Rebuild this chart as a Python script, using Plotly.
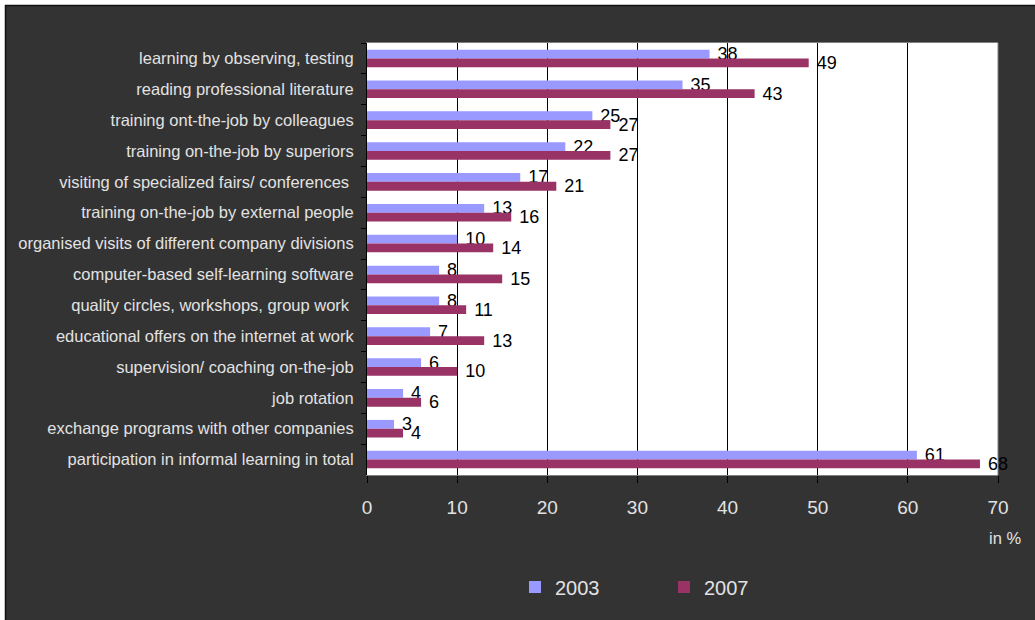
import plotly.graph_objects as go

# Forms of informal learning, share of employees (in %), 2003 vs 2007
categories = [
    "learning by observing, testing",
    "reading professional literature",
    "training ont-the-job by colleagues",
    "training on-the-job by superiors",
    "visiting of specialized fairs/ conferences\u00a0",
    "training on-the-job by external people",
    "organised visits of different company divisions",
    "computer-based self-learning software",
    "quality circles, workshops, group work\u00a0",
    "educational offers on the internet at work",
    "supervision/ coaching on-the-job",
    "job rotation",
    "exchange programs with other companies",
    "participation in informal learning in total",
]
values_2003 = [38, 35, 25, 22, 17, 13, 10, 8, 8, 7, 6, 4, 3, 61]
values_2007 = [49, 43, 27, 27, 21, 16, 14, 15, 11, 13, 10, 6, 4, 68]
x_ticks = [0, 10, 20, 30, 40, 50, 60, 70]

FONT = "Arial, Liberation Sans, sans-serif"
LIGHT = "#e2e2e2"
BG = "#333333"

W, H = 1035, 620
L, R, T, B = 367, 37, 43, 145
pw, ph = W - L - R, H - T - B


def px_x(p):
    return (p - L) / pw


def px_y(p):
    return (H - B - p) / ph


fig = go.Figure()
fig.add_trace(go.Bar(
    name="2003", y=categories, x=values_2003, orientation="h",
    marker=dict(color="#9999FF", line=dict(width=0)),
    text=[f" {v}" for v in values_2003], textposition="outside",
    constraintext="none",
    textfont=dict(family=FONT, size=18, color="black"), cliponaxis=False,
))
fig.add_trace(go.Bar(
    name="2007", y=categories, x=values_2007, orientation="h",
    marker=dict(color="#993366", line=dict(width=0)),
    text=[f" {v}" for v in values_2007], textposition="outside",
    constraintext="none",
    textfont=dict(family=FONT, size=18, color="black"), cliponaxis=False,
))

fig.update_layout(
    width=W, height=H,
    margin=dict(l=L, r=R, t=T, b=B, pad=0),
    paper_bgcolor=BG, plot_bgcolor="white",
    barmode="group", bargap=0.43, bargroupgap=0,
    font=dict(family=FONT, color=LIGHT),
    showlegend=True,
    legend=dict(
        orientation="h", xref="container", yref="container",
        x=515 / W, xanchor="left", y=1 - 587 / H, yanchor="middle",
        font=dict(family=FONT, size=20, color=LIGHT),
        bgcolor="rgba(0,0,0,0)", entrywidth=104, entrywidthmode="pixels",
        itemclick=False,
    ),
)

fig.update_xaxes(
    range=[0, 70], tickvals=x_ticks, ticktext=[str(v) for v in x_ticks],
    showgrid=True, gridcolor="black", gridwidth=1,
    showline=True, linecolor="#808080", linewidth=1, mirror=True,
    ticks="outside", ticklen=7, tickcolor="black", tickwidth=1,
    tickfont=dict(family=FONT, size=19, color=LIGHT),
    ticklabelstandoff=8, zeroline=False, fixedrange=True,
)
fig.update_yaxes(
    autorange="reversed", type="category",
    showline=True, linecolor="black", linewidth=1,
    ticks="outside", tickson="boundaries", ticklen=5, tickcolor="black",
    tickfont=dict(family=FONT, size=16.5, color=LIGHT),
    ticklabelstandoff=9, showgrid=False, fixedrange=True,
)

# right edge of the plotting area
fig.add_shape(type="line", xref="x domain", yref="y domain",
              x0=1, x1=1, y0=0, y1=1, line=dict(color="#808080", width=1))

# outer frame: white page edge and thin dark border
fig.add_shape(type="rect", xref="paper", yref="paper", layer="above",
              x0=px_x(-5), x1=px_x(W + 5), y0=px_y(5), y1=px_y(-5),
              fillcolor="white", line=dict(width=0))
fig.add_shape(type="rect", xref="paper", yref="paper", layer="above",
              x0=px_x(-5), x1=px_x(5), y0=px_y(H + 5), y1=px_y(-5),
              fillcolor="white", line=dict(width=0))
fig.add_shape(type="rect", xref="paper", yref="paper", layer="above",
              x0=px_x(5.5), x1=px_x(W + 10), y0=px_y(H + 10), y1=px_y(5.5),
              fillcolor="rgba(0,0,0,0)", line=dict(color="#111111", width=1.5))

fig.add_annotation(
    text="in %", xref="paper", yref="paper",
    x=px_x(1023), y=px_y(538), xanchor="right", yanchor="middle",
    showarrow=False, font=dict(family=FONT, size=16.5, color=LIGHT),
)

fig.write_html("out.html", config=dict(displayModeBar=False))
